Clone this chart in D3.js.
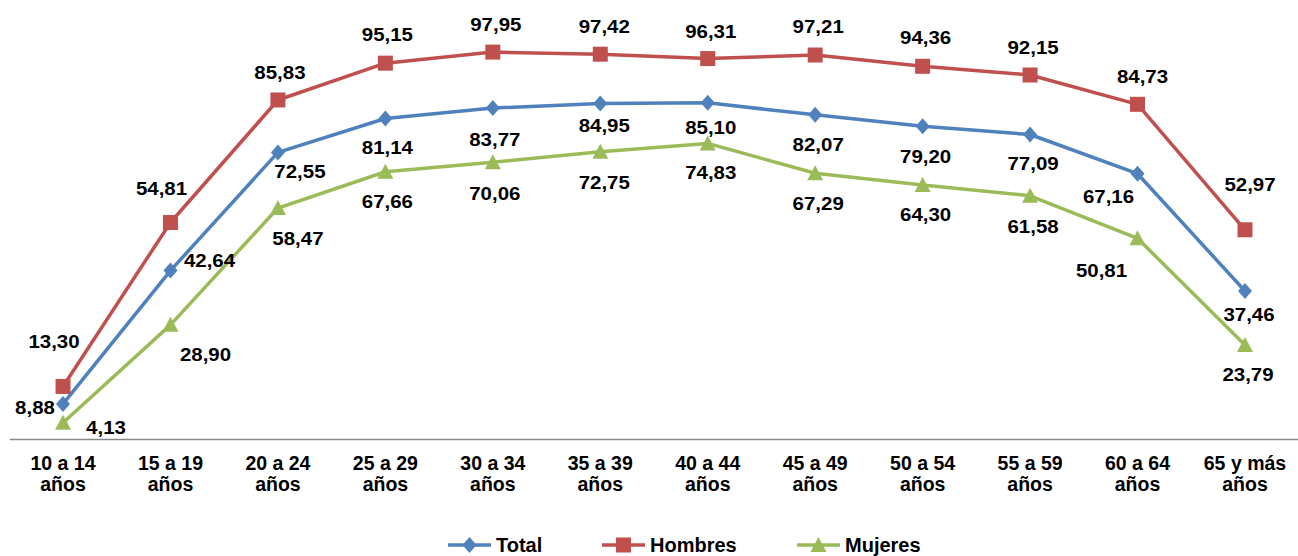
<!DOCTYPE html>
<html><head><meta charset="utf-8">
<script src="https://cdn.jsdelivr.net/npm/d3@7"></script>
<style>body{margin:0;background:#fff}svg{display:block}</style>
</head><body>
<svg id="c" width="1298" height="556"></svg>
<script>
const categories = [["10 a 14","años"],["15 a 19","años"],["20 a 24","años"],["25 a 29","años"],["30 a 34","años"],["35 a 39","años"],["40 a 44","años"],["45 a 49","años"],["50 a 54","años"],["55 a 59","años"],["60 a 64","años"],["65 y más","años"]];
const total   = [8.88, 42.64, 72.55, 81.14, 83.77, 84.95, 85.10, 82.07, 79.20, 77.09, 67.16, 37.46];
const hombres = [13.30, 54.81, 85.83, 95.15, 97.95, 97.42, 96.31, 97.21, 94.36, 92.15, 84.73, 52.97];
const mujeres = [4.13, 28.90, 58.47, 67.66, 70.06, 72.75, 74.83, 67.29, 64.30, 61.58, 50.81, 23.79];
const seriesNames = ["Total","Hombres","Mujeres"];
const colors = ["#4F81BD","#C0504D","#9BBB59"];
// label offsets (layout only)
const totalDx = [-28, 39, 22, 2, 2, 4, 3, 3, 3, 3, -29, 4];
const totalDy = [4, -10, 20, 30, 32, 23, 25, 30, 31, 30, 23, 24];
const hombDx  = [-9, -9, 2, 2, 3, 4, 3, 3, 3, 3, 5, 5];
const hombDy  = [-44, -33, -27, -28, -27, -27, -27, -28, -28, -27, -27, -45];
const mujDx   = [43, 35, 20, 2, 2, 4, 3, 3, 3, 3, -36, 3];
const mujDy   = [5, 30, 31, 30, 32, 31, 30, 31, 30, 31, 33, 30];

const svg = d3.select("#c");
const x = d3.scaleBand().domain(d3.range(categories.length)).range([9.3, 1298.7]);
const cx = i => x(i) + x.bandwidth()/2;
const y = d3.scaleLinear().domain([0, 100]).range([439, 44]);

// axis
const xAxis = d3.axisBottom(x).tickSize(0).tickFormat(() => "");
const ag = svg.append("g").attr("transform","translate(0,439)").call(xAxis);
ag.select(".domain").attr("stroke","#868686").attr("stroke-width",1.5);
ag.selectAll(".tick").each(function(d){
  const t = d3.select(this).select("text").text(null)
    .attr("y", 0).attr("dy", null)
    .attr("font-family","'Liberation Sans', Arial, sans-serif")
    .attr("font-weight","bold").attr("font-size","19.5px").attr("fill","#000");
  t.append("tspan").attr("x",0).attr("y",31).text(categories[d][0]);
  t.append("tspan").attr("x",0).attr("y",52).text(categories[d][1]);
});

const data = [total, hombres, mujeres];
const dxs = [totalDx, hombDx, mujDx], dys = [totalDy, hombDy, mujDy];
const symbols = [d3.symbolDiamond2 || d3.symbolDiamond, d3.symbolSquare, d3.symbolTriangle];

function marker(g, k, px, py){
  if(k===0){
    g.append("path").attr("d", `M${px},${py-8}L${px+7},${py}L${px},${py+8}L${px-7},${py}Z`).attr("fill",colors[k]);
  } else if(k===1){
    g.append("rect").attr("x",px-7.5).attr("y",py-7.5).attr("width",15).attr("height",15).attr("fill",colors[k]);
  } else {
    g.append("path").attr("d", `M${px},${py-8}L${px+8},${py+7}L${px-8},${py+7}Z`).attr("fill",colors[k]);
  }
}

const line = d3.line().x((d,i)=>cx(i)).y(d=>y(d));
// draw order: Total, Hombres, Mujeres
data.forEach((vals,k)=>{
  svg.append("path").datum(vals).attr("d",line).attr("fill","none")
    .attr("stroke",colors[k]).attr("stroke-width",3.5).attr("stroke-linejoin","round");
  const g = svg.append("g");
  vals.forEach((v,i)=> marker(g,k,cx(i),y(v)));
});
// labels
const fmt = v => d3.format(".2f")(v).replace(".",",");
data.forEach((vals,k)=>{
  vals.forEach((v,i)=>{
    svg.append("text")
      .attr("transform",`translate(${cx(i)+dxs[k][i]},${y(v)+dys[k][i]}) scale(1.17,1)`)
      .attr("text-anchor","middle").attr("dominant-baseline","central")
      .attr("font-family","'Liberation Sans', Arial, sans-serif")
      .attr("font-weight","bold").attr("font-size","17.5px").attr("fill","#000")
      .text(fmt(v));
  });
});

// legend
const legendX = [448, 602, 797];
const lg = svg.append("g");
seriesNames.forEach((n,k)=>{
  const lx = legendX[k], ly = 545;
  lg.append("line").attr("x1",lx).attr("x2",lx+43).attr("y1",ly).attr("y2",ly)
    .attr("stroke",colors[k]).attr("stroke-width",3.5);
  marker(lg,k,lx+21.5,ly);
  lg.append("text").attr("x",lx+48).attr("y",ly).attr("dominant-baseline","central")
    .attr("font-family","'Liberation Sans', Arial, sans-serif")
    .attr("font-weight","bold").attr("font-size","20px").attr("fill","#000").text(n);
});
</script>
</body></html>
